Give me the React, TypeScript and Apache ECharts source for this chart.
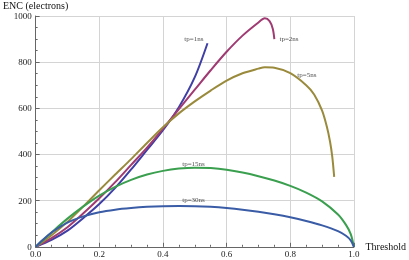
import React, { useEffect, useRef } from "react";
import * as echarts from "echarts";

const seriesNames = ["tp=1ns", "tp=2ns", "tp=5ns", "tp=15ns", "tp=30ns"];
const colors = ["#3f3fa6", "#a03a72", "#9a8a3c", "#3a9f4e", "#3a5ca6"];

const tp1: number[][] = [[0,0],[0.05,30],[0.1,70],[0.15,125],[0.2,185],[0.25,255],[0.3,335],[0.35,420],[0.4,505],[0.45,605],[0.5,735],[0.54,882]];
const tp2: number[][] = [[0,0],[0.05,38],[0.1,85],[0.15,145],[0.2,210],[0.25,280],[0.3,355],[0.35,430],[0.4,512],[0.45,597],[0.5,681],[0.55,765],[0.6,845],[0.65,915],[0.7,972],[0.72,990],[0.735,978],[0.745,945],[0.75,900]];
const tp5: number[][] = [[0,0],[0.05,50],[0.1,108],[0.15,175],[0.2,245],[0.25,313],[0.3,380],[0.35,450],[0.4,518],[0.45,578],[0.5,630],[0.55,677],[0.6,720],[0.65,752],[0.7,772],[0.72,778],[0.75,776],[0.8,752],[0.85,700],[0.875,660],[0.9,590],[0.915,520],[0.925,455],[0.932,390],[0.938,303]];
const tp15: number[][] = [[0,0],[0.05,62],[0.1,122],[0.15,175],[0.2,222],[0.25,260],[0.3,290],[0.35,313],[0.4,329],[0.45,339],[0.5,343],[0.55,341],[0.6,334],[0.65,322],[0.7,306],[0.75,287],[0.8,264],[0.85,235],[0.9,197],[0.95,140],[0.975,95],[0.99,55],[1,0]];
const tp30: number[][] = [[0,0],[0.02,27],[0.05,62],[0.1,105],[0.15,132],[0.2,150],[0.25,161],[0.3,168],[0.35,173],[0.4,176],[0.45,177],[0.5,176],[0.55,173],[0.6,168],[0.65,161],[0.7,152],[0.75,141],[0.8,128],[0.85,112],[0.9,93],[0.95,68],[0.975,48],[0.99,28],[1,0]];
const allSeries = [tp1, tp2, tp5, tp15, tp30];

const labelPoints: [number, number, string][] = [
  [0.497, 902, "tp=1ns"],
  [0.796, 900, "tp=2ns"],
  [0.852, 746, "tp=5ns"],
  [0.496, 358, "tp=15ns"],
  [0.496, 202, "tp=30ns"],
];

const xTicks = [0, 0.2, 0.4, 0.6, 0.8, 1.0];
const yTicks = [0, 200, 400, 600, 800, 1000];

export default function App() {
  const ref = useRef<HTMLDivElement>(null);
  useEffect(() => {
    if (!ref.current) return;
    const chart = echarts.init(ref.current, undefined, { renderer: "svg" });
    const font = "Liberation Serif";
    const axisCommon = {
      axisLine: { show: true, lineStyle: { color: "#666", width: 1 } },
      axisTick: { show: true, inside: true, length: 4, lineStyle: { color: "#666" } },
      minorTick: { show: true, splitNumber: 4, length: 2, lineStyle: { color: "#666" } },
      splitLine: { show: true, lineStyle: { color: "#d4d4d4", width: 1 } },
      axisLabel: { color: "#222", fontFamily: font, fontSize: 9 },
      nameTextStyle: { color: "#111", fontFamily: font, fontSize: 10 },
    };
    chart.setOption({
      animation: false,
      grid: { left: 30, right: 48.5, top: 15.3, bottom: 13.2 },
      xAxis: {
        type: "value",
        min: xTicks[0],
        max: xTicks[xTicks.length - 1],
        interval: 0.2,
        name: "Threshold",
        nameLocation: "end",
        nameGap: 10,
        ...axisCommon,
        axisLabel: {
          ...axisCommon.axisLabel,
          margin: 3,
          formatter: (v: number) => v.toFixed(1),
        },
      },
      yAxis: {
        type: "value",
        min: yTicks[0],
        max: yTicks[yTicks.length - 1],
        interval: 200,
        name: "ENC (electrons)",
        nameLocation: "end",
        nameGap: 6,
        ...axisCommon,
        axisLabel: { ...axisCommon.axisLabel, margin: 4, formatter: (v: number) => String(v) },
      },
      series: [
        ...allSeries.map((d, i) => ({
          type: "line",
          name: seriesNames[i],
          data: d,
          smooth: 0.3,
          symbol: "none",
          lineStyle: { color: colors[i], width: 2 },
          z: 3,
        })),
        {
          type: "scatter",
          data: labelPoints.map((p) => ({ value: [p[0], p[1]], name: p[2] })),
          symbolSize: 0,
          label: {
            show: true,
            position: "inside",
            formatter: (p: any) => p.name,
            fontFamily: font,
            fontSize: 7,
            color: "#222",
          },
          z: 4,
        },
      ],
    });
    return () => chart.dispose();
  }, []);
  return <div ref={ref} style={{ width: 409, height: 260, position: "fixed", left: 0, top: 0 }} />;
}
